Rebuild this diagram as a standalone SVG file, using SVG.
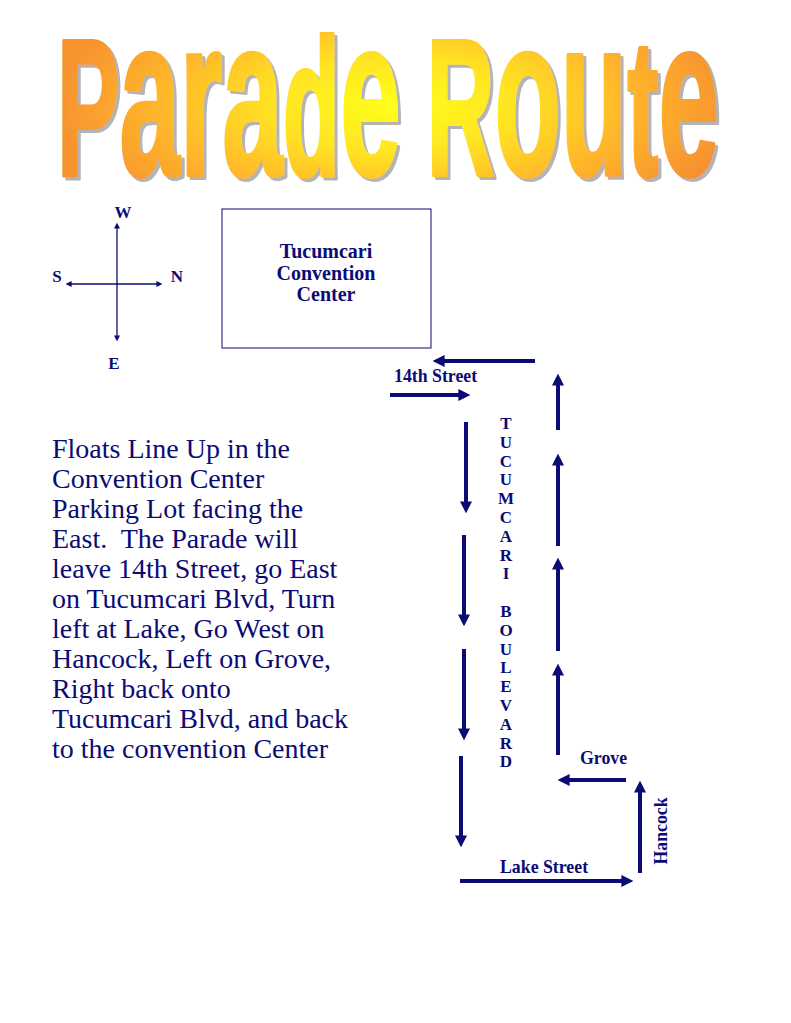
<svg xmlns="http://www.w3.org/2000/svg" width="791" height="1023" viewBox="0 0 791 1023">
<style>
.lbl{font-family:"Liberation Serif","Times New Roman",serif;font-weight:bold;font-size:17.8px;fill:#0b0b75}
.box{font-family:"Liberation Serif","Times New Roman",serif;font-weight:bold;font-size:20px;fill:#0b0b75;text-anchor:middle}
.para{font-family:"Liberation Serif","Times New Roman",serif;font-size:28px;fill:#0b0b75;white-space:pre}
.vt{font-family:"Liberation Serif","Times New Roman",serif;font-weight:bold;font-size:17px;fill:#0b0b75;text-anchor:middle}
.thick{stroke:#0b0b75;stroke-width:4;fill:none;marker-end:url(#head)}
.thin{stroke:#0b0b75;stroke-width:1.3;fill:none;marker-start:url(#small);marker-end:url(#small)}
.title{font-family:"Liberation Sans","Arial",sans-serif;font-weight:bold;font-size:195px;stroke-width:4;stroke-linejoin:round}
.lc{font-size:226px}
</style>
<defs>
<marker id="head" viewBox="0 0 10 10" refX="0.5" refY="5" markerWidth="3" markerHeight="3" orient="auto" markerUnits="strokeWidth">
<path d="M0,0 L10,5 L0,10 z" fill="#0b0b75"/>
</marker>
<marker id="small" viewBox="0 0 10 10" refX="1" refY="5" markerWidth="6" markerHeight="6" orient="auto-start-reverse" markerUnits="userSpaceOnUse">
<path d="M0,0 L10,5 L0,10 z" fill="#0b0b75"/>
</marker>
<radialGradient id="tg" gradientUnits="userSpaceOnUse" cx="395" cy="105" r="340" gradientTransform="translate(395,105) scale(1,0.4) translate(-395,-105)">
<stop offset="0" stop-color="#ffff1a"/>
<stop offset="0.35" stop-color="#ffe423"/>
<stop offset="0.7" stop-color="#ffb52b"/>
<stop offset="1" stop-color="#f7932f"/>
</radialGradient>
<filter id="shadow" x="-5%" y="-10%" width="110%" height="120%">
<feOffset in="SourceAlpha" dx="3" dy="3" result="off"/>
<feFlood flood-color="#b4b4b4"/>
<feComposite in2="off" operator="in" result="sh"/>
<feMerge><feMergeNode in="sh"/><feMergeNode in="SourceGraphic"/></feMerge>
</filter>
</defs>

<g id="title">
<text class="title" x="57" y="175" fill="url(#tg)" stroke="url(#tg)" filter="url(#shadow)" textLength="662" lengthAdjust="spacingAndGlyphs">P<tspan class="lc">ara</tspan>d<tspan class="lc">e</tspan> R<tspan class="lc">ou</tspan>t<tspan class="lc">e</tspan></text>
</g>

<g id="compass">
<line class="thin" x1="117" y1="228" x2="117" y2="336"/>
<line class="thin" x1="71" y1="284" x2="157" y2="284"/>
<text class="vt" x="123" y="218">W</text>
<text class="vt" x="57" y="282">S</text>
<text class="vt" x="177" y="282">N</text>
<text class="vt" x="114" y="369">E</text>
</g>

<g id="convention-center">
<rect x="222" y="209" width="209" height="139" fill="#ffffff" stroke="#0b0b75" stroke-width="1"/>
<text class="box" x="326" y="258">Tucumcari</text>
<text class="box" x="326" y="280">Convention</text>
<text class="box" x="326" y="301">Center</text>
</g>

<g id="description">
<text class="para" x="52" y="458">Floats Line Up in the</text>
<text class="para" x="52" y="488">Convention Center</text>
<text class="para" x="52" y="518">Parking Lot facing the</text>
<text class="para" x="52" y="548">East.  The Parade will</text>
<text class="para" x="52" y="578">leave 14th Street, go East</text>
<text class="para" x="52" y="608">on Tucumcari Blvd, Turn</text>
<text class="para" x="52" y="638">left at Lake, Go West on</text>
<text class="para" x="52" y="668">Hancock, Left on Grove,</text>
<text class="para" x="52" y="698">Right back onto</text>
<text class="para" x="52" y="728">Tucumcari Blvd, and back</text>
<text class="para" x="52" y="758">to the convention Center</text>
</g>

<g id="street-labels">
<text class="lbl" x="394" y="382">14th Street</text>
<text class="lbl" x="500" y="873">Lake Street</text>
<text class="lbl" x="580" y="764">Grove</text>
<text class="lbl" transform="translate(667,831) rotate(-90)" text-anchor="middle">Hancock</text>
<g id="tucumcari-boulevard">
<text class="vt" x="506" y="429">T</text>
<text class="vt" x="506" y="448">U</text>
<text class="vt" x="506" y="467">C</text>
<text class="vt" x="506" y="485">U</text>
<text class="vt" x="506" y="504">M</text>
<text class="vt" x="506" y="523">C</text>
<text class="vt" x="506" y="542">A</text>
<text class="vt" x="506" y="561">R</text>
<text class="vt" x="506" y="579">I</text>
<text class="vt" x="506" y="617">B</text>
<text class="vt" x="506" y="636">O</text>
<text class="vt" x="506" y="655">U</text>
<text class="vt" x="506" y="673">L</text>
<text class="vt" x="506" y="692">E</text>
<text class="vt" x="506" y="711">V</text>
<text class="vt" x="506" y="730">A</text>
<text class="vt" x="506" y="749">R</text>
<text class="vt" x="506" y="767">D</text>
</g>
</g>

<g id="connectors">
<line class="thick" x1="535" y1="361" x2="444" y2="361"/>
<line class="thick" x1="390" y1="395" x2="459" y2="395"/>
<line class="thick" x1="466" y1="422" x2="466" y2="502"/>
<line class="thick" x1="464" y1="535" x2="464" y2="615"/>
<line class="thick" x1="464" y1="649" x2="464" y2="729"/>
<line class="thick" x1="461" y1="756" x2="461" y2="836"/>
<line class="thick" x1="460" y1="881" x2="622" y2="881"/>
<line class="thick" x1="640" y1="873" x2="640" y2="792"/>
<line class="thick" x1="626" y1="780" x2="569" y2="780"/>
<line class="thick" x1="558" y1="755" x2="558" y2="675"/>
<line class="thick" x1="558" y1="651" x2="558" y2="569"/>
<line class="thick" x1="558" y1="546" x2="558" y2="465"/>
<line class="thick" x1="558" y1="430" x2="558" y2="385"/>
</g>
</svg>
